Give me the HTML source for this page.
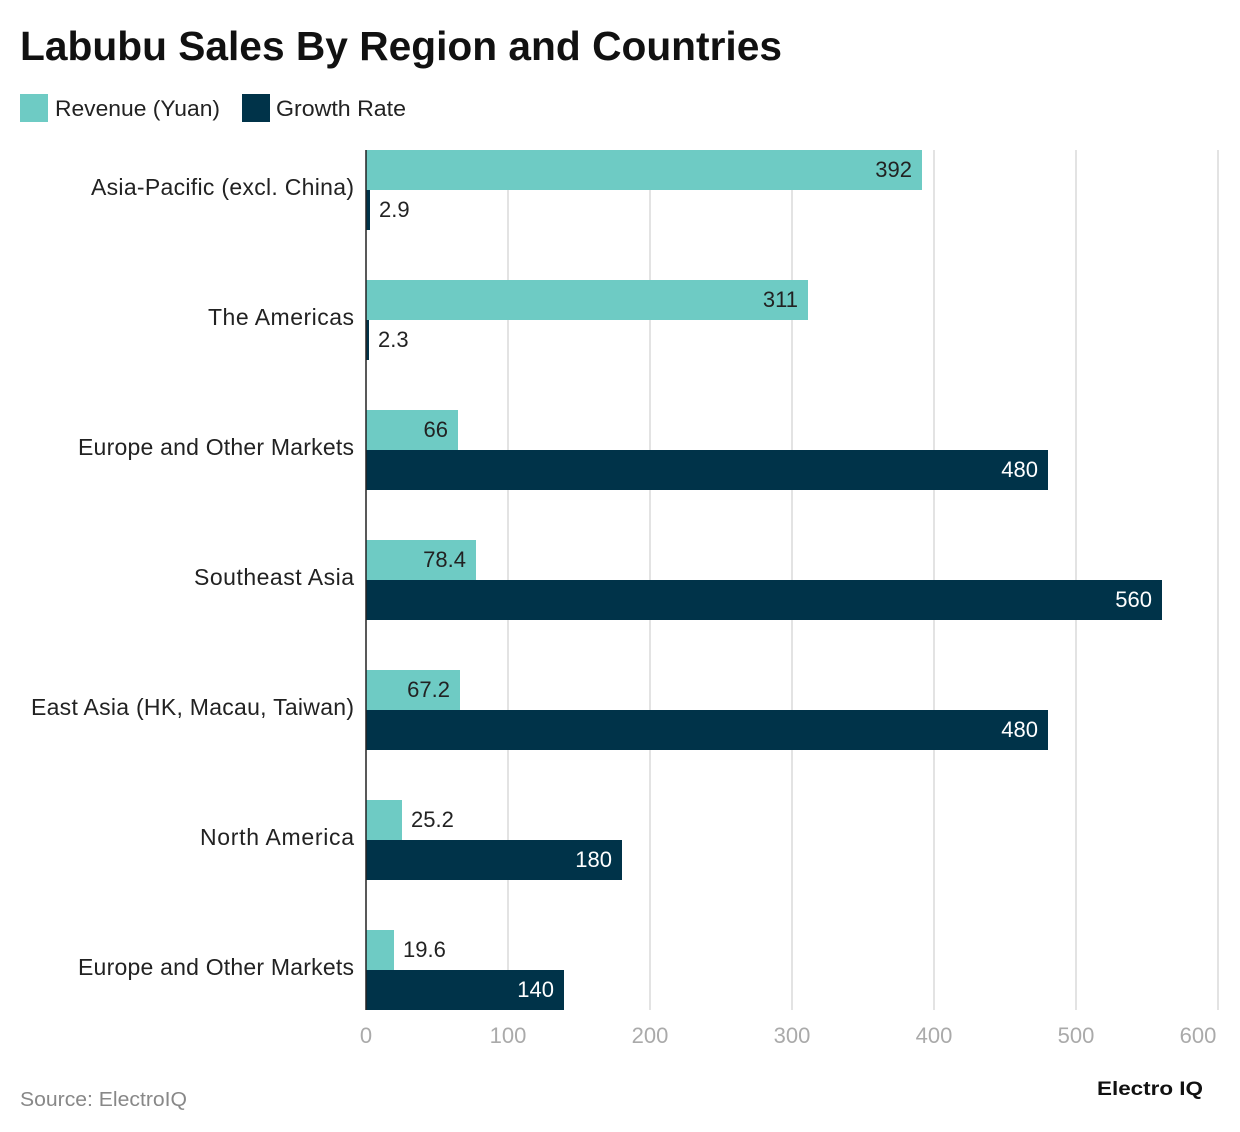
<!DOCTYPE html>
<html><head><meta charset="utf-8"><style>
body{margin:0;background:#fff;}
svg{display:block;font-family:"Liberation Sans",sans-serif;}
</style></head><body>
<svg width="1240" height="1132" viewBox="0 0 1240 1132">
<rect width="1240" height="1132" fill="#fff"/>
<text x="20" y="60" font-size="41" font-weight="bold" fill="#111" textLength="762" lengthAdjust="spacingAndGlyphs">Labubu Sales By Region and Countries</text>
<rect x="20" y="94" width="28" height="28" fill="#6ecbc4"/>
<text x="55" y="116" font-size="22" fill="#222" textLength="165" lengthAdjust="spacingAndGlyphs">Revenue (Yuan)</text>
<rect x="242" y="94" width="28" height="28" fill="#003349"/>
<text x="276" y="116" font-size="22" fill="#222" textLength="130" lengthAdjust="spacingAndGlyphs">Growth Rate</text>
<g stroke="#e3e3e3" stroke-width="2">
<line x1="508" y1="150" x2="508" y2="1010"/><line x1="650" y1="150" x2="650" y2="1010"/>
<line x1="792" y1="150" x2="792" y2="1010"/><line x1="934" y1="150" x2="934" y2="1010"/>
<line x1="1076" y1="150" x2="1076" y2="1010"/><line x1="1218" y1="150" x2="1218" y2="1010"/>
</g>
<g font-size="22" fill="#aaa" text-anchor="middle">
<text x="366" y="1043">0</text><text x="508" y="1043">100</text><text x="650" y="1043">200</text>
<text x="792" y="1043">300</text><text x="934" y="1043">400</text><text x="1076" y="1043">500</text><text x="1198" y="1043">600</text>
</g>
<g font-size="23" fill="#222" lengthAdjust="spacingAndGlyphs">
<text x="91" y="195" textLength="263">Asia-Pacific (excl. China)</text>
<text x="208" y="325" textLength="146">The Americas</text>
<text x="78" y="455" textLength="276">Europe and Other Markets</text>
<text x="194" y="585" textLength="160">Southeast Asia</text>
<text x="31" y="715" textLength="323">East Asia (HK, Macau, Taiwan)</text>
<text x="200" y="845" textLength="154">North America</text>
<text x="78" y="975" textLength="276">Europe and Other Markets</text>
</g>
<g fill="#6ecbc4">
<rect x="366" y="150" width="556" height="40"/>
<rect x="366" y="280" width="442" height="40"/>
<rect x="366" y="410" width="92" height="40"/>
<rect x="366" y="540" width="110" height="40"/>
<rect x="366" y="670" width="94" height="40"/>
<rect x="366" y="800" width="36" height="40"/>
<rect x="366" y="930" width="28" height="40"/>
</g>
<g fill="#003349">
<rect x="366" y="190" width="4" height="40"/>
<rect x="366" y="320" width="3" height="40"/>
<rect x="366" y="450" width="682" height="40"/>
<rect x="366" y="580" width="796" height="40"/>
<rect x="366" y="710" width="682" height="40"/>
<rect x="366" y="840" width="256" height="40"/>
<rect x="366" y="970" width="198" height="40"/>
</g>
<line x1="366" y1="150" x2="366" y2="1010" stroke="#222" stroke-width="1.5"/>
<g font-size="22" fill="#222">
<text x="912" y="177" text-anchor="end">392</text>
<text x="379" y="217">2.9</text>
<text x="798" y="307" text-anchor="end">311</text>
<text x="378" y="347">2.3</text>
<text x="448" y="437" text-anchor="end">66</text>
<text x="466" y="567" text-anchor="end">78.4</text>
<text x="450" y="697" text-anchor="end">67.2</text>
<text x="411" y="827">25.2</text>
<text x="403" y="957">19.6</text>
</g>
<g font-size="22" fill="#fff" text-anchor="end">
<text x="1038" y="477">480</text>
<text x="1152" y="607">560</text>
<text x="1038" y="737">480</text>
<text x="612" y="867">180</text>
<text x="554" y="997">140</text>
</g>
<text x="20" y="1106" font-size="20" fill="#888" textLength="167" lengthAdjust="spacingAndGlyphs">Source: ElectroIQ</text>
<text x="1097" y="1095" font-size="19" font-weight="bold" fill="#111" textLength="106" lengthAdjust="spacingAndGlyphs">Electro IQ</text>
</svg>
</body></html>
